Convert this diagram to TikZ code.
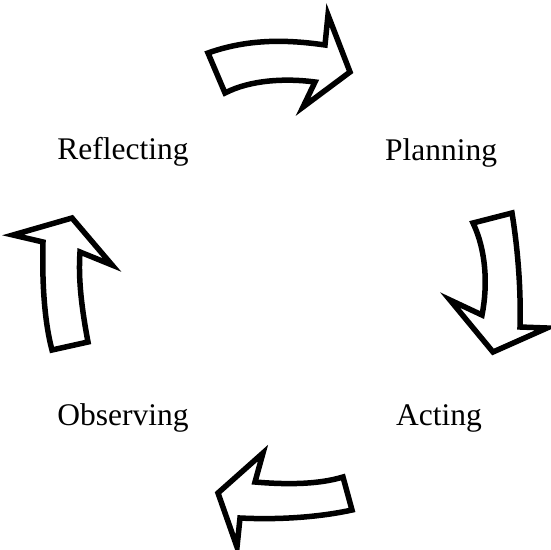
\documentclass[tikz,border=0pt]{standalone}
\usepackage{fontspec}
\setmainfont{Liberation Serif}
\begin{document}
\begin{tikzpicture}[x=1pt,y=-1pt,
    stage/.style={anchor=base,font=\fontsize{31.5}{38}\selectfont},
    blockarrow/.style={draw,fill=white,line width=5.5pt,line join=miter}]
    \useasboundingbox (0,0) rectangle (551,549);
    \node[stage] (reflecting) at (123,159) {Reflecting};
    \node[stage] (planning) at (441,160) {Planning};
    \node[stage] (acting) at (439,425) {Acting};
    \node[stage] (observing) at (123,425) {Observing};
    \draw[blockarrow] (208,53) .. controls (250,38) and (290,40) .. (325,45) -- (328,15) -- (350,72) -- (303,107) -- (315,82) .. controls (285,78) and (250,80) .. (225,93) -- cycle;
    \draw[blockarrow] (473,223) -- (512,213) .. controls (518,250) and (521,290) .. (520,327) -- (547,328) -- (493,352) -- (450,300) -- (482,315) .. controls (488,285) and (486,250) .. (473,223) -- cycle;
    \draw[blockarrow] (343,477) -- (352,510) .. controls (320,517) and (280,520) .. (240,518) -- (237,547) -- (218,493) -- (263,453) -- (255,482) .. controls (290,485) and (320,484) .. (343,477) -- cycle;
    \draw[blockarrow] (52,350) -- (88,342) .. controls (82,310) and (78,280) .. (80,252) -- (112,265) -- (72,218) -- (13,235) -- (43,242) .. controls (42,280) and (44,320) .. (52,350) -- cycle;
  \end{tikzpicture}
\end{document}
